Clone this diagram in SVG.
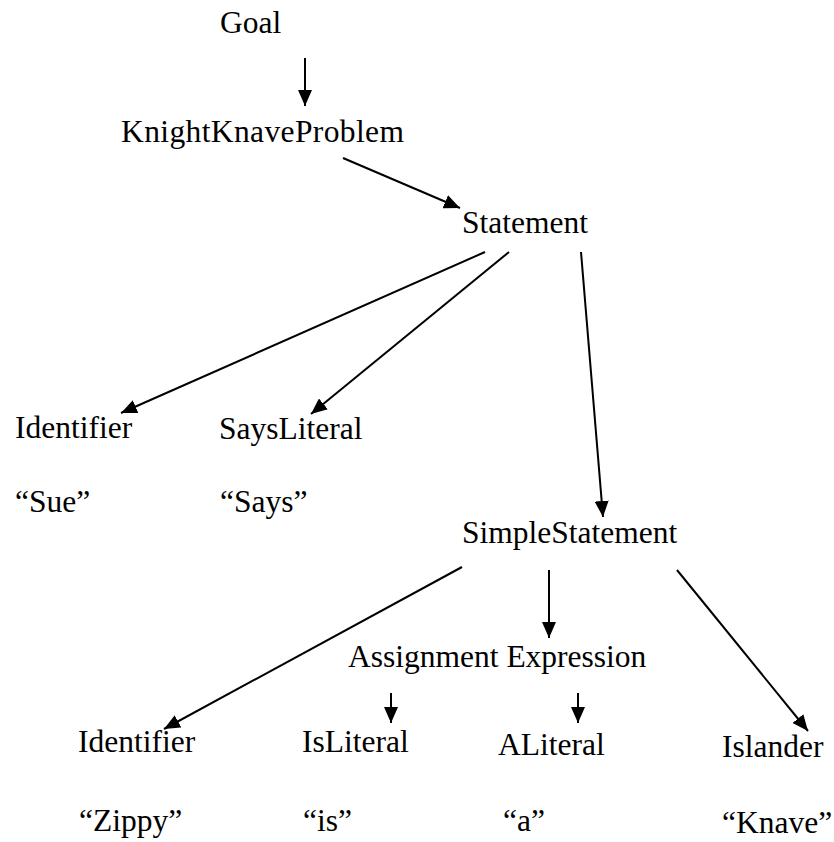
<svg xmlns="http://www.w3.org/2000/svg" width="834" height="842" viewBox="0 0 834 842">
<style>
text { font-family: "Liberation Serif", Tinos, "Times New Roman", Times, "DejaVu Serif", serif; font-size: 31.5px; fill: #000; }
.c line { stroke: #000; stroke-width: 2; fill: none; marker-end: url(#ah); }
</style>
<defs>
<marker id="ah" markerUnits="userSpaceOnUse" markerWidth="16" markerHeight="14" refX="16" refY="7" orient="auto">
<path d="M0,0 L16,7 L0,14 z" fill="#000"/>
</marker>
</defs>
<rect width="834" height="842" fill="#fff"/>
<g id="goal"><text x="220" y="33">Goal</text></g>
<g id="kkp"><text x="121" y="142" textLength="283">KnightKnaveProblem</text></g>
<g id="statement"><text x="462" y="233">Statement</text></g>
<g id="identifier1"><text x="15" y="438">Identifier</text></g>
<g id="sue"><text x="15" y="512">“Sue”</text></g>
<g id="saysliteral"><text x="219" y="439">SaysLiteral</text></g>
<g id="says"><text x="220" y="512">“Says”</text></g>
<g id="simplestatement"><text x="462" y="543">SimpleStatement</text></g>
<g id="assignment"><text x="348" y="667">Assignment Expression</text></g>
<g id="identifier2"><text x="78" y="752">Identifier</text></g>
<g id="zippy"><text x="79" y="831">“Zippy”</text></g>
<g id="isliteral"><text x="302" y="752">IsLiteral</text></g>
<g id="is"><text x="303" y="831">“is”</text></g>
<g id="aliteral"><text x="498" y="755">ALiteral</text></g>
<g id="a"><text x="503" y="831">“a”</text></g>
<g id="islander"><text x="722" y="757">Islander</text></g>
<g id="knave"><text x="722" y="833">“Knave”</text></g>
<g class="c" id="connectors">
<line x1="305" y1="58" x2="305" y2="106"/>
<line x1="343" y1="158" x2="460" y2="208"/>
<line x1="485" y1="252" x2="121" y2="413"/>
<line x1="509" y1="252" x2="311" y2="414"/>
<line x1="581" y1="252" x2="603" y2="517"/>
<line x1="462" y1="567" x2="164" y2="729"/>
<line x1="549" y1="570" x2="549" y2="638"/>
<line x1="677" y1="570" x2="808" y2="731"/>
<line x1="391" y1="693" x2="391" y2="723"/>
<line x1="578" y1="693" x2="578" y2="723"/>
</g>
</svg>
